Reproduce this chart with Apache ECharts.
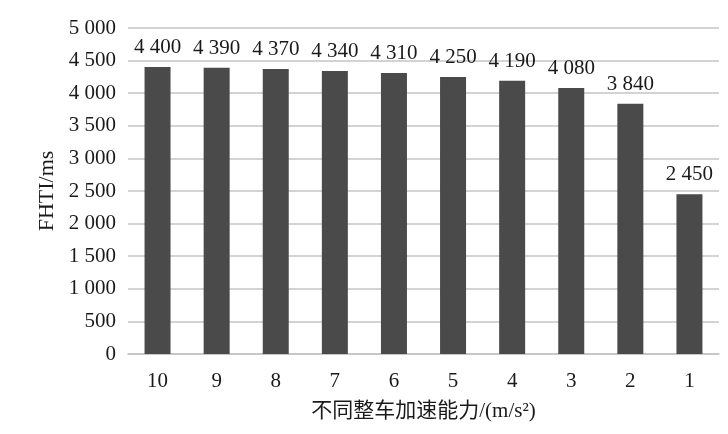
<!DOCTYPE html>
<html lang="zh">
<head>
    <meta charset="UTF-8">
    <title>FHTI</title>
    <script src="https://cdn.jsdelivr.net/npm/echarts@6/dist/echarts.min.js"></script>
    <style>
        html, body { margin: 0; padding: 0; background: #fff; }
        #main { width: 728px; height: 434px; }
    </style>
</head>
<body>
<div id="main"></div>
<script>
    // 横轴：不同整车加速能力
    var categories = ['10', '9', '8', '7', '6', '5', '4', '3', '2', '1'];
    // FHTI 值 / ms
    var fhti = [4400, 4390, 4370, 4340, 4310, 4250, 4190, 4080, 3840, 2450];
    // 纵轴刻度
    var yTicks = [0, 500, 1000, 1500, 2000, 2500, 3000, 3500, 4000, 4500, 5000];

    var serif = '"Liberation Serif", "Times New Roman", "Noto Sans CJK SC", serif';

    // 千位用空格分隔
    function spaced(v) {
        return String(v).replace(/\B(?=(\d{3})+(?!\d))/g, ' ');
    }

    var myChart = echarts.init(document.getElementById('main'));
    var option = {
        backgroundColor: '#fff',
        animation: false,
        grid: {
            left: 128,
            right: 9,
            top: 28,
            bottom: 80
        },
        xAxis: {
            type: 'category',
            data: categories,
            name: '不同整车加速能力/(m/s²)',
            nameLocation: 'middle',
            nameGap: 47,
            nameTextStyle: {
                color: '#1a1a1a',
                fontSize: 21,
                fontFamily: serif
            },
            axisLine: { lineStyle: { color: '#c4c4c4', width: 1.5 } },
            axisTick: { show: false },
            axisLabel: {
                color: '#1a1a1a',
                fontSize: 21,
                fontFamily: serif,
                margin: 17
            }
        },
        yAxis: {
            type: 'value',
            min: yTicks[0],
            max: yTicks[yTicks.length - 1],
            interval: 500,
            name: 'FHTI/ms',
            nameLocation: 'middle',
            nameGap: 67,
            nameTextStyle: {
                color: '#1a1a1a',
                fontSize: 22,
                fontFamily: serif
            },
            axisLine: { show: false },
            axisTick: { show: false },
            splitLine: { lineStyle: { color: '#c4c4c4', width: 1.5 } },
            axisLabel: {
                color: '#1a1a1a',
                fontSize: 21,
                fontFamily: serif,
                margin: 12,
                formatter: function (v) { return spaced(v); }
            }
        },
        series: [
            {
                name: 'FHTI',
                type: 'bar',
                data: fhti,
                barWidth: 26,
                itemStyle: { color: '#4a4a4a' },
                label: {
                    show: true,
                    position: 'top',
                    distance: 9,
                    color: '#1a1a1a',
                    fontSize: 21,
                    fontFamily: serif,
                    formatter: function (p) { return spaced(p.value); }
                }
            }
        ]
    };
    myChart.setOption(option);
</script>
</body>
</html>
